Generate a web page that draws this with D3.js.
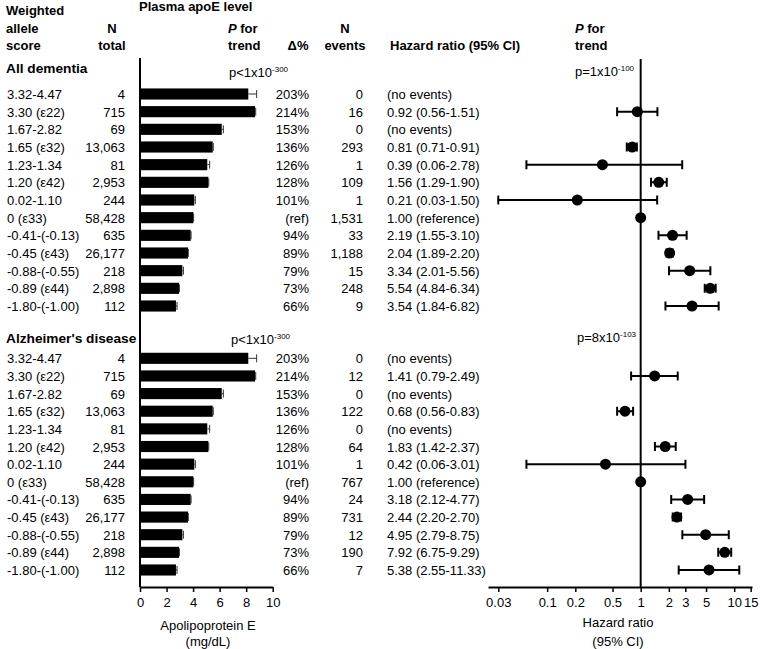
<!DOCTYPE html>
<html><head><meta charset="utf-8">
<script src="https://cdn.jsdelivr.net/npm/d3@7"></script>
<style>body{margin:0;background:#fff}svg{display:block;font-family:"Liberation Sans",Arial,sans-serif}</style>
</head><body><svg id="c" width="760" height="649"></svg>
<script>
const scores = ["3.32-4.47","3.30 (ε22)","1.67-2.82","1.65 (ε32)","1.23-1.34","1.20 (ε42)","0.02-1.10","0 (ε33)","-0.41-(-0.13)","-0.45 (ε43)","-0.88-(-0.55)","-0.89 (ε44)","-1.80-(-1.00)"];
const nTotal = ["4","715","69","13,063","81","2,953","244","58,428","635","26,177","218","2,898","112"];
const apoE = [8.16,8.67,6.16,5.48,5.07,5.15,4.09,4.02,3.82,3.62,3.19,2.94,2.71];
const apoEUpper = [8.79,8.72,6.28,5.52,5.25,5.18,4.17,4.04,3.85,3.64,3.27,2.97,2.79];
const deltaPct = ["203%","214%","153%","136%","126%","128%","101%","(ref)","94%","89%","79%","73%","66%"];
const demEvents = ["0","16","0","293","1","109","1","1,531","33","1,188","15","248","9"];
const demHR = [null,0.92,null,0.81,0.39,1.56,0.21,1.00,2.19,2.04,3.34,5.54,3.54];
const demLo = [null,0.56,null,0.71,0.06,1.29,0.03,1.00,1.55,1.89,2.01,4.84,1.84];
const demHi = [null,1.51,null,0.91,2.78,1.90,1.50,1.00,3.10,2.20,5.56,6.34,6.82];
const adEvents = ["0","12","0","122","0","64","1","767","24","731","12","190","7"];
const adHR = [null,1.41,null,0.68,null,1.83,0.42,1.00,3.18,2.44,4.95,7.92,5.38];
const adLo = [null,0.79,null,0.56,null,1.42,0.06,1.00,2.12,2.20,2.79,6.75,2.55];
const adHi = [null,2.49,null,0.83,null,2.37,3.01,1.00,4.77,2.70,8.75,9.29,11.33];
const barTicks = [0,2,4,6,8,10];
const hrTicks = [0.03,0.1,0.2,0.5,1,2,3,5,10,15];
const refIndex = 7;

const svg = d3.select("#c");
const FS = 13;
const x = d3.scaleLinear().domain([0,10]).range([140,272.7]);
const hx = d3.scaleLog().domain([0.0233,15.5]).range([488,752]);
const f2 = d3.format(".2f");

function txt(xp, yp, s, opts={}) {
  const t = svg.append("text").attr("x", xp).attr("y", yp)
    .attr("font-size", opts.size || FS).attr("fill","#000")
    .attr("font-weight", opts.bold ? "bold" : "normal")
    .attr("text-anchor", opts.anchor || "start").text(s);
  if (opts.italic) t.attr("font-style","italic");
  return t;
}

// headers
txt(6,15,"Weighted",{bold:1});
txt(6,32.5,"allele",{bold:1});
txt(6,50,"score",{bold:1});
txt(112,32.5,"N",{bold:1,anchor:"middle"});
txt(112,50,"total",{bold:1,anchor:"middle"});
txt(139,11,"Plasma apoE level",{bold:1});
const pf = txt(228,32.5,"",{bold:1});
pf.append("tspan").attr("font-style","italic").text("P");
pf.append("tspan").text(" for");
txt(228,50,"trend",{bold:1});
txt(298,50,"Δ%",{bold:1,anchor:"middle"});
txt(345,32.5,"N",{bold:1,anchor:"middle"});
txt(345,50,"events",{bold:1,anchor:"middle"});
txt(390,50,"Hazard ratio (95% CI)",{bold:1});
const pf2 = txt(575,32.5,"",{bold:1});
pf2.append("tspan").attr("font-style","italic").text("P");
pf2.append("tspan").text(" for");
txt(575,50,"trend",{bold:1});

function pText(xp, yp, pre, exp) {
  const t = txt(xp, yp, pre);
  t.append("tspan").attr("dy",-5).attr("font-size",8).text(exp);
}

const panels = [
  {title:"All dementia", titleY:73, range:[85.17,314.83], events:demEvents, hr:demHR, lo:demLo, hi:demHi,
   pBar:["p<1x10","-300",229,77], pHR:["p=1x10","-100",575,76]},
  {title:"Alzheimer's disease", titleY:343, range:[349.5,578.8], events:adEvents, hr:adHR, lo:adLo, hi:adHi,
   pBar:["p<1x10","-300",231,344], pHR:["p=8x10","-103",577,342]}
];

const idx = d3.range(scores.length);
panels.forEach(p => {
  const y = d3.scaleBand().domain(idx).range(p.range).paddingInner(0.37).paddingOuter(0.185);
  const cy = i => y(i) + y.bandwidth()/2;
  txt(6, p.titleY, p.title, {bold:1, size:13.7});
  pText(p.pBar[2], p.pBar[3], p.pBar[0], p.pBar[1]);
  pText(p.pHR[2], p.pHR[3], p.pHR[0], p.pHR[1]);
  idx.forEach(i => {
    const ty = cy(i) + 5;
    txt(7, ty, scores[i]);
    txt(125, ty, nTotal[i], {anchor:"end"});
    txt(309, ty, deltaPct[i], {anchor:"end"});
    txt(363, ty, p.events[i], {anchor:"end"});
    let hrs;
    if (p.hr[i] == null) hrs = "(no events)";
    else if (i === refIndex) hrs = f2(p.hr[i]) + " (reference)";
    else hrs = f2(p.hr[i]) + " (" + f2(p.lo[i]) + "-" + f2(p.hi[i]) + ")";
    txt(387, ty, hrs);
  });
  // bars
  const g = svg.append("g");
  g.selectAll("rect").data(idx).join("rect")
    .attr("x", x(0)).attr("y", i => y(i)).attr("width", i => x(apoE[i]) - x(0))
    .attr("height", y.bandwidth()).attr("fill","#000");
  g.selectAll("path.err").data(idx).join("path").attr("class","err")
    .attr("d", i => `M${x(apoE[i])},${cy(i)}H${x(apoEUpper[i])}M${x(apoEUpper[i])},${cy(i)-4}V${cy(i)+4}`)
    .attr("stroke","#333").attr("stroke-width",1).attr("fill","none");
  // forest
  const fi = idx.filter(i => p.hr[i] != null);
  const fg = svg.append("g");
  fg.selectAll("path").data(fi.filter(i => i !== refIndex)).join("path")
    .attr("d", i => `M${hx(p.lo[i])},${cy(i)}H${hx(p.hi[i])}M${hx(p.lo[i])},${cy(i)-4.5}V${cy(i)+4.5}M${hx(p.hi[i])},${cy(i)-4.5}V${cy(i)+4.5}`)
    .attr("stroke","#000").attr("stroke-width",2).attr("fill","none");
  fg.selectAll("circle").data(fi).join("circle")
    .attr("cx", i => hx(p.hr[i])).attr("cy", cy).attr("r",5.5).attr("fill","#000");
});

// axes
const axY = 587;
svg.append("line").attr("x1",x(0)).attr("x2",x(0)).attr("y1",58).attr("y2",axY).attr("stroke","#000").attr("stroke-width",2);
const ax1 = svg.append("g").attr("transform",`translate(0,${axY})`)
  .call(d3.axisBottom(x).tickValues(barTicks).tickSize(5).tickPadding(6).tickSizeOuter(0));
ax1.select(".domain").attr("stroke-width",2);
ax1.selectAll("text").attr("font-size",FS).attr("font-family",null);
ax1.selectAll(".tick line").attr("stroke-width",1.5);
txt(208,630,"Apolipoprotein E",{anchor:"middle"});
txt(208,646,"(mg/dL)",{anchor:"middle"});

svg.append("line").attr("x1",hx(1)).attr("x2",hx(1)).attr("y1",59).attr("y2",axY).attr("stroke","#000").attr("stroke-width",2);
const ax2 = svg.append("g").attr("transform",`translate(0,${axY})`)
  .call(d3.axisBottom(hx).tickValues(hrTicks).tickFormat(d3.format("")).tickSize(5).tickPadding(6).tickSizeOuter(0));
ax2.select(".domain").attr("stroke-width",2);
ax2.selectAll("text").attr("font-size",FS).attr("font-family",null);
ax2.selectAll(".tick line").attr("stroke-width",1.5);
txt(618,627,"Hazard ratio",{anchor:"middle"});
txt(618,646,"(95% CI)",{anchor:"middle"});
</script></body></html>
